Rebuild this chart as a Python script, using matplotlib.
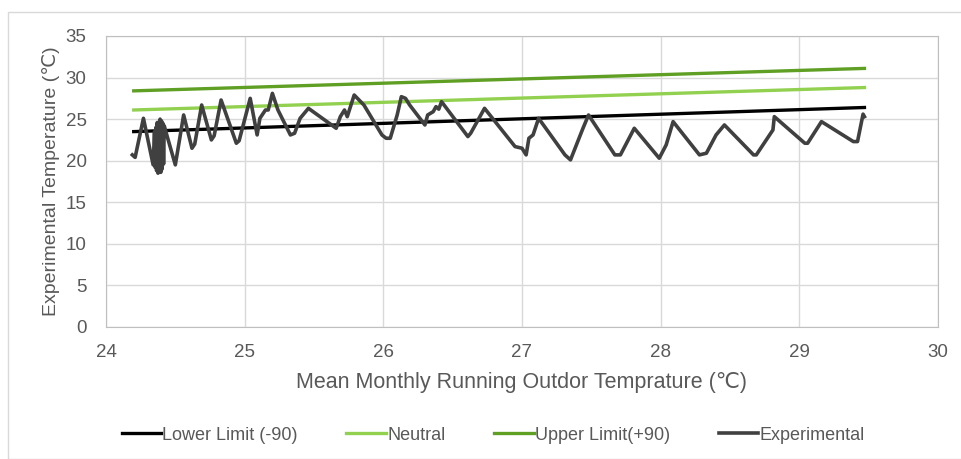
import numpy as np
from matplotlib import pyplot as plt
from matplotlib.patches import Rectangle

plt.rcParams['font.family'] = ['Liberation Sans', 'DejaVu Sans']

# limit lines (start and end points)
limit_x = [24.2, 29.47]
lower = [23.5, 26.4]
neutral = [26.1, 28.8]
upper = [28.4, 31.1]

# experimental curve
exp_x = [24.19, 24.21, 24.27, 24.34, 24.35, 24.355, 24.36, 24.365, 24.37, 24.375,
         24.38, 24.385, 24.39, 24.395, 24.40, 24.405, 24.41, 24.415, 24.42, 24.44,
         24.50, 24.56,
         24.62, 24.64, 24.69, 24.76, 24.78, 24.83, 24.94, 24.96, 25.04, 25.09,
         25.11, 25.15, 25.17, 25.20, 25.24, 25.33, 25.36, 25.40, 25.46, 25.66,
         25.69, 25.72, 25.74, 25.79, 25.86, 25.99, 26.02, 26.05, 26.10, 26.13,
         26.16, 26.19, 26.30, 26.32, 26.36, 26.38, 26.40, 26.42, 26.61, 26.63,
         26.73, 26.95, 27.00, 27.03, 27.05, 27.08, 27.12, 27.31, 27.35, 27.44,
         27.48, 27.67, 27.71, 27.81, 27.99, 28.04, 28.09, 28.28, 28.33, 28.40,
         28.46, 28.67, 28.69, 28.81, 28.82, 29.04, 29.06, 29.16, 29.39, 29.42,
         29.46, 29.47]
exp_y = [20.7, 20.4, 25.1, 19.5, 23.5, 19.2, 24.0, 18.8, 24.6, 18.5,
         23.8, 19.2, 25.0, 18.6, 24.8, 19.0, 24.5, 19.6, 24.2, 23.0,
         19.5, 25.5,
         21.5, 22.0, 26.7, 22.5, 23.0, 27.3, 22.1, 22.4, 27.5, 23.1,
         25.1, 26.1, 26.1, 28.1, 26.1, 23.1, 23.3, 25.1, 26.3, 23.9,
         25.3, 26.1, 25.3, 27.9, 26.7, 23.1, 22.7, 22.7, 25.5, 27.7,
         27.5, 26.7, 24.3, 25.5, 25.9, 26.5, 26.2, 27.1, 22.9, 23.3,
         26.3, 21.7, 21.5, 20.7, 22.7, 23.1, 25.1, 20.7, 20.1, 23.9,
         25.5, 20.7, 20.7, 23.9, 20.3, 21.9, 24.7, 20.7, 20.9, 23.1,
         24.3, 20.7, 20.7, 23.7, 25.3, 22.1, 22.1, 24.7, 22.3, 22.3,
         25.6, 25.3]

xticks = [24, 25, 26, 27, 28, 29, 30]
yticks = [0, 5, 10, 15, 20, 25, 30, 35]

fig = plt.figure(figsize=(9.61, 4.59), dpi=100)
fig.patches.append(Rectangle((0.008, 0.0), 1.0, 0.974, transform=fig.transFigure,
                             fill=False, edgecolor='#d9d9d9', lw=1))
ax = fig.add_axes([0.1103, 0.2876, 0.8657, 0.634])

ax.plot(limit_x, lower, color='black', lw=2.4, label='Lower Limit (-90)')
ax.plot(limit_x, neutral, color='#92d050', lw=2.4, label='Neutral')
ax.plot(limit_x, upper, color='#5f9f24', lw=2.4, label='Upper Limit(+90)')
ax.plot(exp_x, exp_y, color='#404040', lw=2.6, label='Experimental')

ax.set_xlim(24, 30)
ax.set_ylim(0, 35)
ax.set_xticks(xticks)
ax.set_yticks(yticks)
ax.grid(True, color='#d9d9d9', lw=1)
ax.set_axisbelow(True)
for s in ax.spines.values():
    s.set_color('#bfbfbf')
ax.tick_params(length=0, labelsize=13.5, colors='#595959')
ax.tick_params(axis='x', pad=12)
ax.tick_params(axis='y', pad=14)

ax.set_xlabel('Mean Monthly Running Outdor Temprature (℃)', fontsize=15.5, color='#595959', labelpad=8)
ax.set_ylabel('Experimental Temperature (℃)', fontsize=14, color='#595959', labelpad=4)

leg = fig.legend(loc='center', bbox_to_anchor=(0.513, 0.052), ncol=4, frameon=False,
                 fontsize=13, handlelength=2.2, columnspacing=2.7, handletextpad=0.05)
for t in leg.get_texts():
    t.set_color('#595959')

plt.savefig('out.png', dpi=100)
